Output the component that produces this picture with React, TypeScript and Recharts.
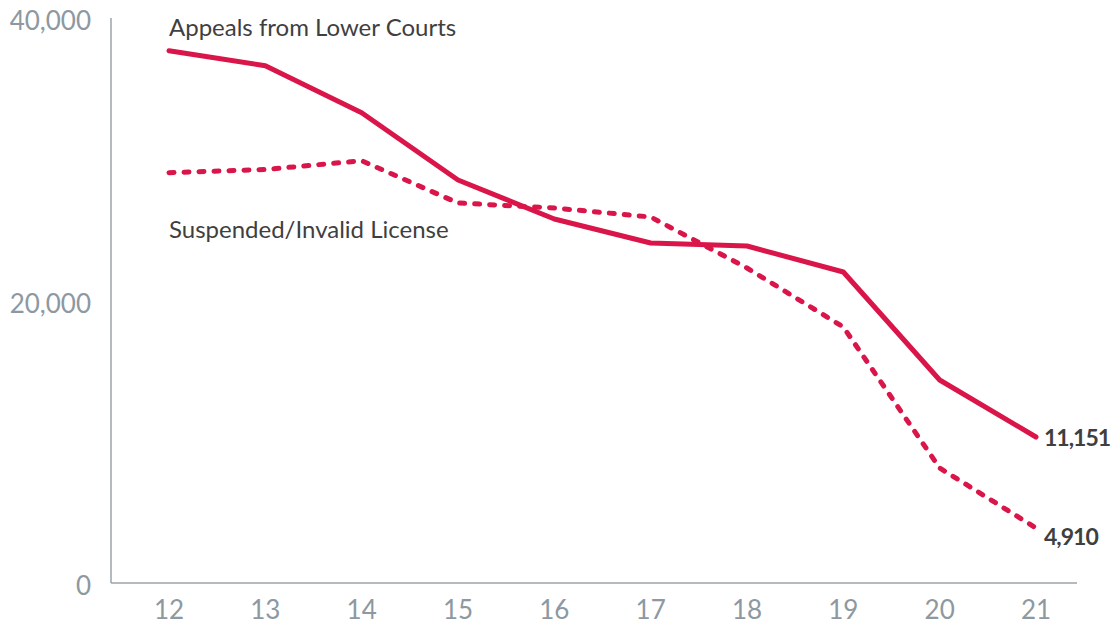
import { LineChart, Line, XAxis, YAxis, LabelList } from "recharts";

const years = ["12", "13", "14", "15", "16", "17", "18", "19", "20", "21"];
const appealsFromLowerCourts = [37685, 36623, 33296, 28531, 25770, 24071, 23858, 22018, 14372, 10336];
const suspendedInvalidLicense = [29048, 29274, 29897, 26903, 26549, 25912, 22301, 18124, 8142, 3894];
const seriesNames = ["Appeals from Lower Courts", "Suspended/Invalid License"];
const endLabels = ["11,151", "4,910"];
const yTicks = [0, 20000, 40000];

const data = years.map((year, i) => ({
  year,
  appeals: appealsFromLowerCourts[i],
  suspended: suspendedInvalidLicense[i],
}));

const RED = "#DA1549";
const AXIS = "#9AA4AC";
const TICK = "#8D98A1";
const DARK = "#3F3F3F";

function makeLabel(series: number, nameDy: number, endDy: number) {
  return (props: any) => {
    const { x, y, index } = props;
    if (index === 0) {
      return (
        <text x={x} y={y + nameDy} fill={DARK} fontSize={24} fontFamily="Lato">
          {seriesNames[series]}
        </text>
      );
    }
    if (index === years.length - 1) {
      return (
        <text
          x={x + 8}
          y={y + endDy}
          fill={DARK}
          fontSize={23}
          fontWeight={700}
          fontFamily="Lato"
          letterSpacing={-1}
          dominantBaseline="central"
        >
          {endLabels[series]}
        </text>
      );
    }
    return null;
  };
}

export default function App() {
  return (
    <div style={{ position: "fixed", top: 0, left: 0, width: 1117, height: 626, background: "#fff" }}>
      <LineChart
        width={1117}
        height={626}
        data={data}
        margin={{ top: 18, right: 40, bottom: 0, left: 11 }}
        style={{ fontFamily: "Lato" }}
      >
        <XAxis
          dataKey="year"
          padding={{ left: 58, right: 41 }}
          axisLine={{ stroke: AXIS, strokeWidth: 1.5 }}
          tickLine={false}
          tickSize={0}
          tickMargin={18}
          height={43}
          interval={0}
          tick={{ fill: TICK, fontSize: 26, fontFamily: "Lato" }}
        />
        <YAxis
          domain={[0, 40000]}
          ticks={yTicks}
          width={100}
          axisLine={{ stroke: AXIS, strokeWidth: 1.5 }}
          tickLine={false}
          tickSize={0}
          tickMargin={20}
          tickFormatter={(v: number) => v.toLocaleString("en-US")}
          tick={{ fill: TICK, fontSize: 26, fontFamily: "Lato", dy: 3 }}
        />
        <Line
          dataKey="appeals"
          type="linear"
          stroke={RED}
          strokeWidth={5}
          strokeLinecap="round"
          strokeLinejoin="round"
          dot={false}
          activeDot={false}
          isAnimationActive={false}
        >
          <LabelList dataKey="appeals" content={makeLabel(0, -15, 0)} />
        </Line>
        <Line
          dataKey="suspended"
          type="linear"
          stroke={RED}
          strokeWidth={5}
          strokeDasharray="5 10"
          strokeLinecap="round"
          strokeLinejoin="round"
          dot={false}
          activeDot={false}
          isAnimationActive={false}
        >
          <LabelList dataKey="suspended" content={makeLabel(1, 65, 8)} />
        </Line>
      </LineChart>
    </div>
  );
}
